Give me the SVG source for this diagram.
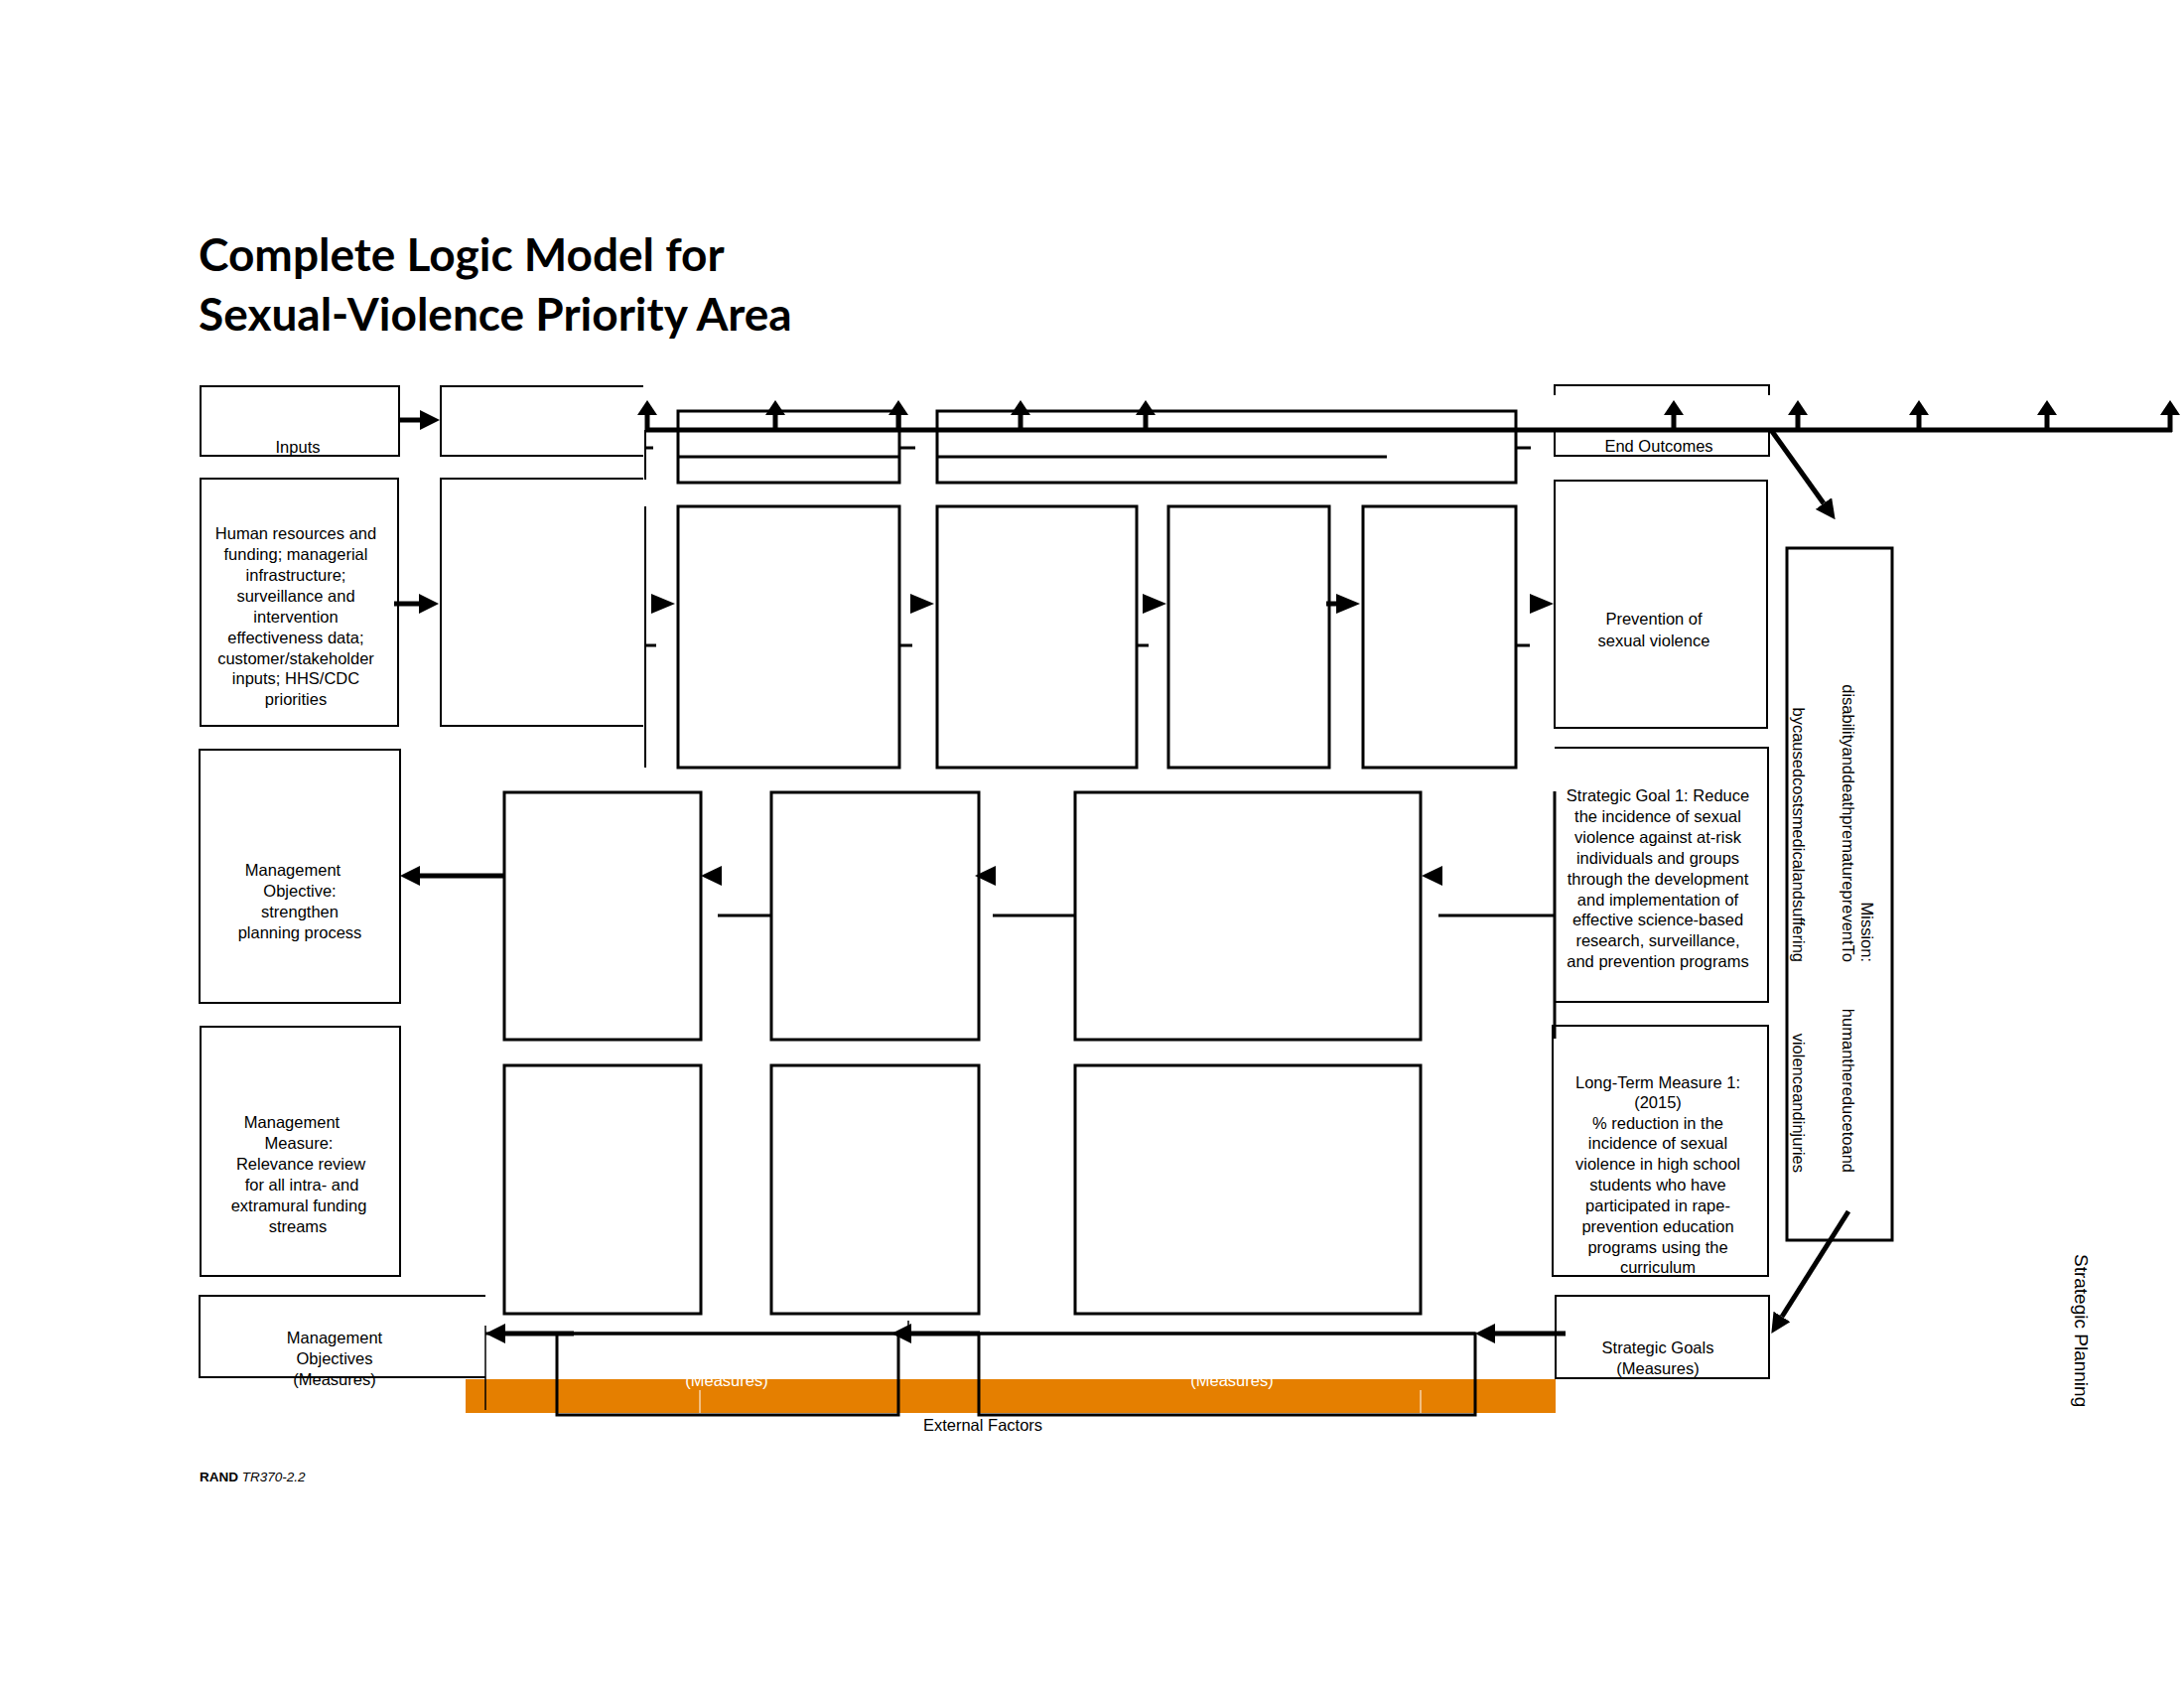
<svg xmlns="http://www.w3.org/2000/svg" width="2200" height="1700" viewBox="0 0 2200 1700">
<style>
.bg{fill:#fff}
.b2{fill:none;stroke:#000;stroke-width:2}
.b3{fill:none;stroke:#000;stroke-width:3}
.thin{fill:none;stroke:#000;stroke-width:1.5}
.thick{fill:none;stroke:#000;stroke-width:5}
.t{font-family:"Liberation Sans",Arial,sans-serif;font-size:16.5px;fill:#000;text-anchor:middle}
.te{font-family:"Liberation Sans",Arial,sans-serif;font-size:16.5px;fill:#000;text-anchor:end}
.ttl{font-family:Lato,"Liberation Sans",sans-serif;font-weight:bold;font-size:46px;fill:#000}
.w{fill:#fff}
.wl{stroke:#fff;stroke-width:1}
</style>
<defs>
<marker id="ah" viewBox="0 0 20 20" refX="0" refY="10" markerWidth="20" markerHeight="20" markerUnits="userSpaceOnUse" orient="auto" preserveAspectRatio="none"><path d="M0,0 L20,10 L0,20 z" fill="#000"/></marker>
<marker id="up" viewBox="0 0 15 20" refX="0" refY="10" markerWidth="15" markerHeight="20" markerUnits="userSpaceOnUse" orient="auto" preserveAspectRatio="none"><path d="M0,0 L15,10 L0,20 z" fill="#000"/></marker>
<path id="tr" d="M0,-10 L24,0 L0,10 z" fill="#000"/>
<path id="tl" d="M0,0 L21,-10 L21,10 z" fill="#000"/>
</defs>
<rect class="bg" x="0" y="0" width="2200" height="1700"/>

<g id="title">
<text class="ttl" x="200" y="273">Complete Logic Model for</text>
<text class="ttl" x="200" y="333">Sexual-Violence Priority Area</text>
</g>

<g id="band">
<rect x="469" y="1389" width="1098" height="34" fill="#E57F00"/>
<line class="wl" x1="705" y1="1400" x2="705" y2="1423"/>
<line class="wl" x1="1431" y1="1400" x2="1431" y2="1423"/>
<text class="t w" x="732" y="1396">(Measures)</text>
<text class="t w" x="1241" y="1396">(Measures)</text>
</g>

<g id="inputs-header">
<rect class="b2" x="202" y="389" width="200" height="70"/>
<text class="t" x="300" y="456">Inputs</text>
</g>
<g id="activities-header"><path class="b2" d="M648,389 H444 V459 H648"/></g>
<g id="outputs-header"><rect class="b3" x="683" y="414" width="223" height="72"/><line class="b3" x1="683" y1="460" x2="906" y2="460"/></g>
<g id="outcomes-header"><rect class="b3" x="944" y="414" width="583" height="72"/><line class="b3" x1="944" y1="460" x2="1397" y2="460"/></g>
<g id="end-outcomes-header">
<path class="b2" d="M1566,398 V388 H1782 V398"/>
<path class="b2" d="M1566,433 V459 H1782 V433"/>
<text class="t" x="1671" y="455">End Outcomes</text>
</g>

<g id="inputs">
<rect class="b2" x="202" y="482" width="199" height="249"/>
<text class="t" x="298" y="543">Human resources and</text>
<text class="t" x="298" y="564">funding; managerial</text>
<text class="t" x="298" y="585">infrastructure;</text>
<text class="t" x="298" y="606">surveillance and</text>
<text class="t" x="298" y="627">intervention</text>
<text class="t" x="298" y="648">effectiveness data;</text>
<text class="t" x="298" y="669">customer/stakeholder</text>
<text class="t" x="298" y="689">inputs; HHS/CDC</text>
<text class="t" x="298" y="710">priorities</text>
</g>
<g id="activities"><path class="b2" d="M648,482 H444 V731 H648"/></g>
<g id="box-a"><rect class="b3" x="683" y="510" width="223" height="263"/></g>
<g id="box-b"><rect class="b3" x="944" y="510" width="201" height="263"/></g>
<g id="box-c"><rect class="b3" x="1177" y="510" width="162" height="263"/></g>
<g id="box-d"><rect class="b3" x="1373" y="510" width="154" height="263"/></g>
<g id="end-outcome">
<rect class="b2" x="1566" y="484" width="214" height="249"/>
<text class="t" x="1666" y="629">Prevention of</text>
<text class="t" x="1666" y="651">sexual violence</text>
</g>

<g id="mission">
<rect class="b3" x="1800" y="552" width="106" height="697"/>
<text class="te" transform="translate(1875,969) rotate(90)">Mission:</text>
<text class="te" transform="translate(1856,969) rotate(90)">disabilityanddeathprematurepreventTo</text>
<text class="te" transform="translate(1856,1181) rotate(90)">humanthereducetoand</text>
<text class="te" transform="translate(1806,969) rotate(90)">bycausedcostsmedicalandsuffering</text>
<text class="te" transform="translate(1806,1181) rotate(90)">violenceandinjuries</text>
</g>

<g id="mgmt-objective">
<rect class="b2" x="201" y="755" width="202" height="255"/>
<text class="t" x="295" y="882">Management</text>
<text class="t" x="302" y="903">Objective:</text>
<text class="t" x="302" y="924">strengthen</text>
<text class="t" x="302" y="945">planning process</text>
</g>
<g id="box-e"><rect class="b3" x="508" y="798" width="198" height="249"/></g>
<g id="box-f"><rect class="b3" x="777" y="798" width="209" height="249"/></g>
<g id="box-g"><rect class="b3" x="1083" y="798" width="348" height="249"/></g>
<g id="strategic-goal">
<path class="b2" d="M1566,753 H1781 V1009 H1566"/>
<text class="t" x="1670" y="807">Strategic Goal 1: Reduce</text>
<text class="t" x="1670" y="828">the incidence of sexual</text>
<text class="t" x="1670" y="849">violence against at-risk</text>
<text class="t" x="1670" y="870">individuals and groups</text>
<text class="t" x="1670" y="891">through the development</text>
<text class="t" x="1670" y="912">and implementation of</text>
<text class="t" x="1670" y="932">effective science-based</text>
<text class="t" x="1670" y="953">research, surveillance,</text>
<text class="t" x="1670" y="974">and prevention programs</text>
</g>

<g id="mgmt-measure">
<rect class="b2" x="202" y="1034" width="201" height="251"/>
<text class="t" x="294" y="1136">Management</text>
<text class="t" x="301" y="1157">Measure:</text>
<text class="t" x="303" y="1178">Relevance review</text>
<text class="t" x="304" y="1199">for all intra- and</text>
<text class="t" x="301" y="1220">extramural funding</text>
<text class="t" x="300" y="1241">streams</text>
</g>
<g id="box-e2"><rect class="b3" x="508" y="1073" width="198" height="250"/></g>
<g id="box-f2"><rect class="b3" x="777" y="1073" width="209" height="250"/></g>
<g id="box-g2"><rect class="b3" x="1083" y="1073" width="348" height="250"/></g>
<g id="long-term-measure">
<rect class="b2" x="1564" y="1033" width="217" height="252"/>
<text class="t" x="1670" y="1096">Long-Term Measure 1:</text>
<text class="t" x="1670" y="1116">(2015)</text>
<text class="t" x="1670" y="1137">% reduction in the</text>
<text class="t" x="1670" y="1157">incidence of sexual</text>
<text class="t" x="1670" y="1178">violence in high school</text>
<text class="t" x="1670" y="1199">students who have</text>
<text class="t" x="1670" y="1220">participated in rape-</text>
<text class="t" x="1670" y="1241">prevention education</text>
<text class="t" x="1670" y="1262">programs using the</text>
<text class="t" x="1670" y="1282">curriculum</text>
</g>

<g id="mgmt-objectives-measures">
<path class="b2" d="M489,1305 H201 V1387 H489"/>
<text class="t" x="337" y="1353">Management</text>
<text class="t" x="337" y="1374">Objectives</text>
<text class="t" x="337" y="1395">(Measures)</text>
</g>
<g id="measures-1"><rect class="b3" x="561" y="1343" width="344" height="82"/></g>
<g id="measures-2"><rect class="b3" x="986" y="1343" width="500" height="82"/></g>
<g id="strategic-goals-measures">
<rect class="b2" x="1567" y="1305" width="215" height="83"/>
<text class="t" x="1670" y="1363">Strategic Goals</text>
<text class="t" x="1670" y="1384">(Measures)</text>
</g>

<g id="labels">
<text class="t" x="990" y="1441">External Factors</text>
<text x="201" y="1492" style="font-family:'Liberation Sans',Arial,sans-serif;font-size:13.5px"><tspan font-weight="bold">RAND</tspan> <tspan font-style="italic">TR370-2.2</tspan></text>
<text transform="translate(2090,1263) rotate(90)" style="font-family:'Liberation Sans',Arial,sans-serif;font-size:19px">Strategic Planning</text>
</g>

<g id="connectors">
<line class="thick" x1="650" y1="433" x2="2188" y2="433"/>
<line class="thick" x1="652" y1="435" x2="652" y2="418" marker-end="url(#up)"/>
<line class="thick" x1="781" y1="433" x2="781" y2="418" marker-end="url(#up)"/>
<line class="thick" x1="905" y1="433" x2="905" y2="418" marker-end="url(#up)"/>
<line class="thick" x1="1028" y1="433" x2="1028" y2="418" marker-end="url(#up)"/>
<line class="thick" x1="1154" y1="433" x2="1154" y2="418" marker-end="url(#up)"/>
<line class="thick" x1="1686" y1="433" x2="1686" y2="418" marker-end="url(#up)"/>
<line class="thick" x1="1811" y1="433" x2="1811" y2="418" marker-end="url(#up)"/>
<line class="thick" x1="1933" y1="433" x2="1933" y2="418" marker-end="url(#up)"/>
<line class="thick" x1="2062" y1="433" x2="2062" y2="418" marker-end="url(#up)"/>
<line class="thick" x1="2186" y1="435" x2="2186" y2="418" marker-end="url(#up)"/>
<line class="b2" x1="650" y1="433" x2="650" y2="483"/>
<line class="b2" x1="650" y1="510" x2="650" y2="773"/>
<line class="b3" x1="650" y1="451" x2="658" y2="451"/>
<line class="b3" x1="906" y1="451" x2="922" y2="451"/>
<line class="b3" x1="1527" y1="451" x2="1542" y2="451"/>
<line class="b3" x1="650" y1="650" x2="661" y2="650"/>
<line class="b3" x1="906" y1="650" x2="919" y2="650"/>
<line class="b3" x1="1145" y1="650" x2="1157" y2="650"/>
<line class="b3" x1="1527" y1="650" x2="1541" y2="650"/>
<line class="thick" x1="402" y1="423" x2="423" y2="423" marker-end="url(#ah)"/>
<line class="thick" x1="397" y1="608" x2="422" y2="608" marker-end="url(#ah)"/>
<use href="#tr" x="656" y="608"/>
<use href="#tr" x="917" y="608"/>
<use href="#tr" x="1151" y="608"/>
<line class="thick" x1="1336" y1="608" x2="1348" y2="608"/>
<use href="#tr" x="1346" y="608"/>
<use href="#tr" x="1541" y="608"/>
<line class="thick" x1="1784" y1="433" x2="1837" y2="507" marker-end="url(#ah)"/>
<line class="thick" x1="507" y1="882" x2="423" y2="882" marker-end="url(#ah)"/>
<use href="#tl" x="706" y="882"/>
<use href="#tl" x="982" y="882"/>
<use href="#tl" x="1432" y="882"/>
<line class="b3" x1="723" y1="922" x2="777" y2="922"/>
<line class="b3" x1="1000" y1="922" x2="1083" y2="922"/>
<line class="b3" x1="1449" y1="922" x2="1566" y2="922"/>
<line class="b3" x1="1566" y1="797" x2="1566" y2="1046"/>
<line class="b3" x1="489" y1="1343" x2="1486" y2="1343"/>
<line class="thin" x1="489" y1="1335" x2="489" y2="1420"/>
<line class="thin" x1="915" y1="1330" x2="915" y2="1343"/>
<line class="thick" x1="578" y1="1343" x2="509" y2="1343" marker-end="url(#ah)"/>
<line class="thick" x1="987" y1="1343" x2="918" y2="1343" marker-end="url(#ah)"/>
<line class="thick" x1="1577" y1="1343" x2="1506" y2="1343" marker-end="url(#ah)"/>
<line class="thick" x1="1862" y1="1220" x2="1795" y2="1326" marker-end="url(#ah)"/>
</g>
</svg>
